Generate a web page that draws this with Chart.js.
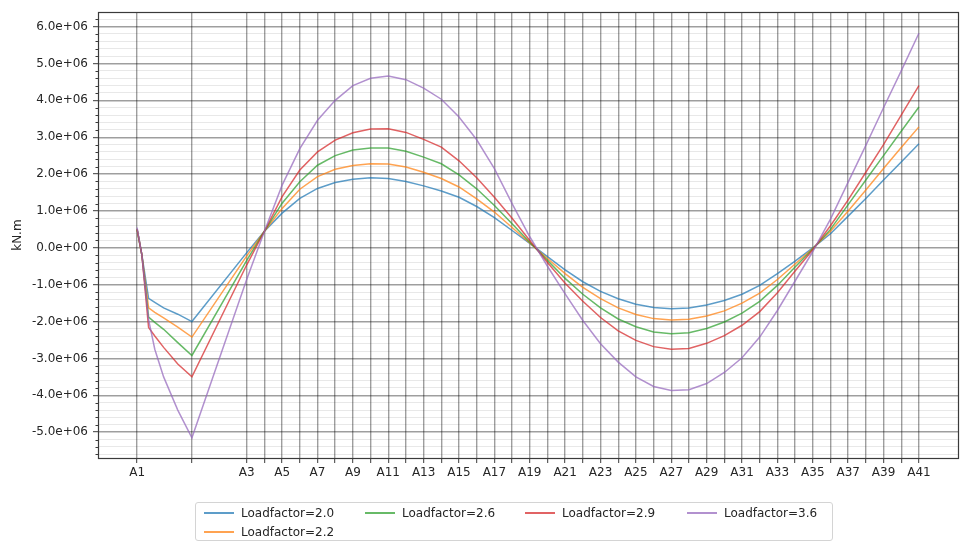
<!DOCTYPE html>
<html>
<head>
<meta charset="utf-8">
<script src="https://cdn.jsdelivr.net/npm/chart.js@4.4.1/dist/chart.umd.min.js"></script>
<style>
  html, body { margin: 0; padding: 0; background: #ffffff; }
  #wrap { position: relative; width: 979px; height: 551px; overflow: hidden; }
  #chart { position: absolute; left: 0; top: 0; }
  #legend {
    position: absolute; left: 195px; top: 502px; width: 638px; height: 39px;
    box-sizing: border-box; border: 1px solid #d4d4d4; border-radius: 3px; background: #ffffff;
    font-family: "DejaVu Sans", sans-serif; font-size: 12px; color: #262626;
  }
  .lg-item { position: absolute; height: 16px; white-space: nowrap; }
  .lg-line { position: absolute; left: 0; top: 7px; width: 30px; height: 2px; }
  .lg-text { position: absolute; left: 37px; top: 0; line-height: 16px; }
</style>
</head>
<body>
<div id="wrap">
  <canvas id="chart" width="979" height="551"></canvas>
  <div id="legend"></div>
</div>
<script>
// Stations along the member (positions in chainage units) and their names
const stationNames = ['A1','A2','A3','A4','A5','A6','A7','A8','A9','A10',
  'A11','A12','A13','A14','A15','A16','A17','A18','A19','A20',
  'A21','A22','A23','A24','A25','A26','A27','A28','A29','A30',
  'A31','A32','A33','A34','A35','A36','A37','A38','A39','A40','A41'];
const stationPos = [0, 3.1, 6.2, 7.2, 8.2, 9.2, 10.2, 11.2, 12.2, 13.2,
  14.2, 15.2, 16.2, 17.2, 18.2, 19.2, 20.2, 21.2, 22.2, 23.2,
  24.2, 25.2, 26.2, 27.2, 28.2, 29.2, 30.2, 31.2, 32.2, 33.2,
  34.2, 35.2, 36.2, 37.2, 38.2, 39.2, 40.2, 41.2, 42.2, 43.2, 44.2];

// Output points of the moment diagram (extra points between A1 and A2)
const sampleX = [0, 0.27, 0.65, 1.0, 1.5, 2.3, 3.1,
  6.2, 7.2, 8.2, 9.2, 10.2, 11.2, 12.2, 13.2, 14.2, 15.2,
  16.2, 17.2, 18.2, 19.2, 20.2, 21.2, 22.2, 23.2, 24.2, 25.2,
  26.2, 27.2, 28.2, 29.2, 30.2, 31.2, 32.2, 33.2, 34.2, 35.2,
  36.2, 37.2, 38.2, 39.2, 40.2, 41.2, 42.2, 43.2, 44.2];

// Bending moment, in units of 1e6 kN.m
const lf20 = [0.50, -0.19, -1.37, -1.48, -1.63, -1.80, -2.00,
  -0.13, 0.45, 0.94, 1.34, 1.61, 1.77, 1.86, 1.90, 1.88, 1.80,
  1.68, 1.54, 1.37, 1.12, 0.82, 0.47, 0.12, -0.24, -0.60, -0.92,
  -1.18, -1.38, -1.53, -1.62, -1.65, -1.63, -1.55, -1.43, -1.26, -1.02,
  -0.70, -0.36, 0.00, 0.38, 0.86, 1.34, 1.84, 2.33, 2.82];
const lf22 = [0.50, -0.19, -1.63, -1.75, -1.90, -2.15, -2.42,
  -0.22, 0.45, 1.07, 1.59, 1.93, 2.13, 2.23, 2.28, 2.27, 2.19,
  2.05, 1.88, 1.65, 1.33, 0.97, 0.55, 0.13, -0.29, -0.70, -1.07,
  -1.38, -1.63, -1.81, -1.92, -1.96, -1.94, -1.85, -1.71, -1.50, -1.23,
  -0.86, -0.44, -0.02, 0.45, 1.00, 1.57, 2.15, 2.72, 3.28];
const lf26 = [0.50, -0.19, -1.88, -2.02, -2.21, -2.57, -2.92,
  -0.34, 0.45, 1.21, 1.79, 2.24, 2.50, 2.65, 2.71, 2.71, 2.62,
  2.46, 2.28, 1.98, 1.60, 1.15, 0.65, 0.15, -0.34, -0.83, -1.26,
  -1.63, -1.93, -2.14, -2.28, -2.33, -2.30, -2.19, -2.01, -1.77, -1.45,
  -1.02, -0.52, -0.03, 0.50, 1.17, 1.84, 2.50, 3.16, 3.82];
const lf29 = [0.50, -0.19, -2.16, -2.39, -2.70, -3.15, -3.50,
  -0.46, 0.45, 1.39, 2.11, 2.60, 2.92, 3.12, 3.22, 3.23, 3.13,
  2.94, 2.73, 2.36, 1.90, 1.37, 0.80, 0.20, -0.40, -0.96, -1.45,
  -1.89, -2.25, -2.51, -2.68, -2.75, -2.73, -2.59, -2.38, -2.10, -1.73,
  -1.22, -0.63, -0.05, 0.60, 1.30, 2.05, 2.80, 3.60, 4.40];
const lf36 = [0.55, -0.19, -1.95, -2.75, -3.50, -4.40, -5.15,
  -0.85, 0.45, 1.70, 2.69, 3.46, 4.00, 4.40, 4.60, 4.66, 4.56,
  4.33, 4.03, 3.55, 2.93, 2.15, 1.20, 0.30, -0.50, -1.25, -1.97,
  -2.60, -3.10, -3.50, -3.76, -3.87, -3.85, -3.68, -3.38, -2.98, -2.42,
  -1.70, -0.90, -0.10, 0.78, 1.78, 2.78, 3.80, 4.80, 5.82];

const seriesNames = ['Loadfactor=2.0', 'Loadfactor=2.2', 'Loadfactor=2.6', 'Loadfactor=2.9', 'Loadfactor=3.6'];
const seriesValues = [lf20, lf22, lf26, lf29, lf36];
const seriesColors = ['rgba(31,119,180,0.72)', 'rgba(255,127,14,0.72)', 'rgba(44,160,44,0.72)',
  'rgba(214,39,40,0.72)', 'rgba(148,103,189,0.72)'];

// y-axis labelled ticks (kN.m) and minor step
const yMajorTicks = [-5e6, -4e6, -3e6, -2e6, -1e6, 0, 1e6, 2e6, 3e6, 4e6, 5e6, 6e6];
const yMinorStep = 0.2e6;
const UNIT = 1e6;

const X_MIN = -2.21, X_MAX = 46.41;
const Y_MIN = -5.70e6, Y_MAX = 6.39e6;

const yTicks = [];
for (let k = Math.ceil(Y_MIN / yMinorStep); k * yMinorStep <= Y_MAX; k++) yTicks.push(Math.round(k * yMinorStep));
const isMajor = v => yMajorTicks.some(m => Math.abs(m - v) < 1);

function sciLabel(v) {
  if (Math.abs(v) < 1) return '0.0e+00';
  return (v / UNIT).toFixed(1) + 'e+06';
}

const FONT = { family: '"DejaVu Sans", sans-serif', size: 12 };
const TEXT = '#262626';
const GRID_MAJOR = 'rgba(0,0,0,0.38)';
const GRID_MINOR = 'rgba(0,0,0,0.09)';

const datasets = seriesValues.map((vals, i) => ({
  label: seriesNames[i],
  data: vals.map((v, j) => ({ x: sampleX[j], y: v * UNIT })),
  borderColor: seriesColors[i],
  backgroundColor: seriesColors[i],
  borderWidth: 1.5,
  pointRadius: 0,
  tension: 0,
  fill: false,
  order: seriesValues.length - 1 - i
}));

// axes frame and short minor ticks on the value axis
const framePlugin = {
  id: 'frame',
  afterDraw(chart) {
    const { ctx, chartArea: a, scales } = chart;
    ctx.save();
    const ys = scales.y;
    ctx.strokeStyle = '#3a3a3a';
    ctx.lineWidth = 1;
    yTicks.forEach(v => {
      if (isMajor(v)) return;
      const py = Math.round(ys.getPixelForValue(v)) + 0.5;
      ctx.beginPath();
      ctx.moveTo(a.left - 2.5, py);
      ctx.lineTo(a.left, py);
      ctx.stroke();
    });
    ctx.strokeStyle = '#3a3a3a';
    ctx.lineWidth = 1.2;
    ctx.strokeRect(Math.round(a.left) + 0.5, Math.round(a.top) + 0.5,
      Math.round(a.right - a.left), Math.round(a.bottom - a.top));
    ctx.restore();
  }
};

new Chart(document.getElementById('chart'), {
  type: 'line',
  data: { datasets },
  plugins: [framePlugin],
  options: {
    responsive: false,
    animation: false,
    events: [],
    layout: { padding: { top: 7, right: 21, left: 0, bottom: 0 } },
    plugins: { legend: { display: false }, tooltip: { enabled: false } },
    scales: {
      x: {
        type: 'linear',
        min: X_MIN, max: X_MAX,
        afterBuildTicks: s => { s.ticks = stationPos.map(v => ({ value: v })); },
        afterFit: s => { s.height = 93; },
        ticks: {
          autoSkip: false, maxRotation: 0, minRotation: 0, padding: 3,
          font: FONT, color: TEXT,
          callback: (v, i) => (i % 2 === 0 ? stationNames[i] : '')
        },
        grid: { color: GRID_MAJOR, lineWidth: 1.4, tickLength: 5, tickColor: '#3a3a3a', tickWidth: 1 },
        border: { display: false }
      },
      y: {
        type: 'linear',
        min: Y_MIN, max: Y_MAX,
        afterBuildTicks: s => { s.ticks = yTicks.map(v => ({ value: v })); },
        afterFit: s => { s.width = 98; },
        ticks: {
          autoSkip: false, padding: 5, font: FONT, color: TEXT,
          callback: v => (isMajor(v) ? sciLabel(v) : '')
        },
        grid: {
          color: c => (isMajor(c.tick.value) ? GRID_MAJOR : GRID_MINOR),
          lineWidth: c => (isMajor(c.tick.value) ? 1.4 : 1),
          tickLength: 5,
          tickColor: c => (isMajor(c.tick.value) ? '#3a3a3a' : 'rgba(0,0,0,0)'),
          tickWidth: 1
        },
        border: { display: false },
        title: { display: true, text: 'kN.m', font: FONT, color: TEXT, padding: { top: 10.5, bottom: 0 } }
      }
    }
  }
});

// legend laid out in four columns, filled column by column
const legendSlots = [[0, 0], [0, 1], [1, 0], [2, 0], [3, 0]];
const legendColX = [8, 169, 329, 491];
const legendRowY = [2, 21];
const legendEl = document.getElementById('legend');
seriesNames.forEach((name, i) => {
  const [col, row] = legendSlots[i];
  const item = document.createElement('div');
  item.className = 'lg-item';
  item.style.left = legendColX[col] + 'px';
  item.style.top = legendRowY[row] + 'px';
  const line = document.createElement('div');
  line.className = 'lg-line';
  line.style.backgroundColor = seriesColors[i];
  const txt = document.createElement('div');
  txt.className = 'lg-text';
  txt.textContent = name;
  item.appendChild(line);
  item.appendChild(txt);
  legendEl.appendChild(item);
});
</script>
</body>
</html>
